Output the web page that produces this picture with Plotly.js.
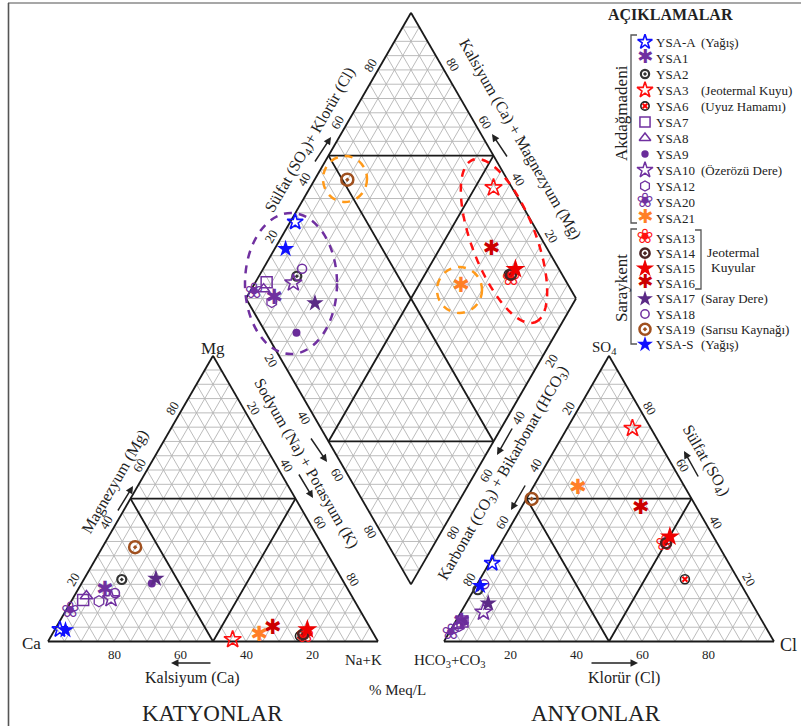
<!DOCTYPE html>
<html><head><meta charset="utf-8">
<script src="https://cdn.plot.ly/plotly-3.0.1.min.js"></script>
<style>html,body{margin:0;padding:0;background:#fff}#chart{width:801px;height:726px}</style>
</head><body><div id="chart"></div>
<script>
// ---------------- DATA (% meq/L) ----------------
const samples = ['YSA-A','YSA1','YSA2','YSA3','YSA6','YSA7','YSA8','YSA9','YSA10','YSA12','YSA20','YSA21','YSA13','YSA14','YSA15','YSA16','YSA17','YSA18','YSA19','YSA-S'];
const notes   = ['(Yağış)','','','(Jeotermal Kuyu)','(Uyuz Hamamı)','','','','(Özerözü Dere)','','','','','','','','(Saray Dere)','','(Sarısu Kaynağı)','(Yağış)'];
const ca   = [94.3,73.9,66.8,43.7,22.7,82.1,80.4,58.4,73.4,77.5,88.0,34.9,21.2,21.4,19.3,29.7,56.3,71.2,57.1,92.7];
const mg   = [4.2,17.6,21.7,0.7,1.9,14.5,15.9,20.3,15.0,14.1,10.6,2.1,1.9,2.5,4.2,4.4,22.0,17.0,33.0,4.0];
const nak  = [1.5,8.5,11.5,55.6,75.4,3.4,3.7,21.3,11.6,8.4,1.4,63.0,76.9,76.1,76.5,65.9,21.7,11.8,9.9,3.3];
const hco3 = [71.7,91.4,80.7,5.6,16.1,90.9,93.0,90.7,82.9,92.8,96.5,32.7,16.3,15.5,13.2,17.1,79.9,77.8,48.5,79.3];
const so4  = [27.4,6.5,18.1,74.6,21.8,7.0,5.5,6.8,10.3,5.4,2.9,53.3,33.8,34.4,36.7,46.6,13.4,20.0,49.9,19.5];
const cl   = [0.9,2.1,1.2,19.8,62.1,2.1,1.5,2.5,6.8,1.8,0.6,14.0,49.9,50.1,50.1,36.3,6.7,2.2,1.6,1.2];
const tickValues = [20,40,60,80];

// ---------------- STYLES ----------------
const styles = [
 {sym:'star-open', color:'#1010ff', size:12, lw:1.6},
 {glyph:'✱', color:'#7030a0', size:21},
 {sym:'circle-open-dot', color:'#333333', size:9, lw:2.2},
 {sym:'star-open', color:'#ff1010', size:13, lw:1.6},
 {sym:'circle-open', color:'#222222', size:9, lw:1.6, over:{sym:'x-thin-open', color:'#ff0000', size:5, lw:2}},
 {sym:'square-open', color:'#7030a0', size:11, lw:1.5},
 {sym:'triangle-up-open', color:'#7030a0', size:11, lw:1.5},
 {sym:'circle', color:'#6a2c9a', size:8, lw:0},
 {sym:'star-open', color:'#7030a0', size:13, lw:1.5},
 {sym:'hexagon-open', color:'#7030a0', size:11, lw:1.3},
 {glyph:'❀', color:'#7030a0', size:22},
 {glyph:'✱', color:'#ff7f27', size:21},
 {glyph:'❀', color:'#ff1010', size:22},
 {sym:'circle-open-dot', color:'#4a2323', size:10, lw:2.5},
 {sym:'star', color:'#ee0000', size:15, lw:0},
 {glyph:'✱', color:'#cc0000', size:21},
 {sym:'star', color:'#5b2a86', size:13, lw:0},
 {sym:'circle-open', color:'#7030a0', size:9, lw:1.5},
 {sym:'circle-open-dot', color:'#a0501e', size:12, lw:2.5},
 {sym:'star', color:'#1010ff', size:13, lw:0}
];

// ---------------- GEOMETRY ----------------
const W = 801, H = 726, S = 3.3, X0 = 48, Y0 = 641.5, GAP = 20, R3 = Math.sqrt(3)/2;
const FONT = "'Liberation Serif', 'Times New Roman', 'DejaVu Serif', serif";
const GLYPH_FONT = "'DejaVu Sans', 'Noto Sans', sans-serif";
const INK = '#222222';
function X(px){return (px - X0)/S;}
function Y(py){return (Y0 - py)/S;}
function catXY(c,m,n){return [n + 0.5*m, R3*m];}
function anXY(h,s,c){return [100 + GAP + c + 0.5*s, R3*s];}
function diaXY(n,sc){return [(n + 100 + GAP + sc)/2, (100 + GAP + sc - n)*R3];}
function lerp(P,Q,f){return [P[0]+(Q[0]-P[0])*f, P[1]+(Q[1]-P[1])*f];}

const A=[0,0], B=[100,0], C=[50,100*R3];
const A2=[100+GAP,0], B2=[200+GAP,0], C2=[150+GAP,100*R3];
const Bm=diaXY(100,0), L=diaXY(0,0), Rt=diaXY(100,100), T=diaXY(0,100);

const gx=[], gy=[], bx=[], by=[];
function seg(arrX,arrY,P,Q){arrX.push(P[0],Q[0],null); arrY.push(P[1],Q[1],null);}
function triGrid(P,Q,R){
  for(let k=1;k<20;k++){ const f=k/20;
    seg(gx,gy,lerp(P,R,f),lerp(Q,R,f));
    seg(gx,gy,lerp(P,Q,f),lerp(R,Q,f));
    seg(gx,gy,lerp(Q,P,f),lerp(R,P,f));
  }
}
triGrid(A,B,C); triGrid(A2,B2,C2); triGrid(L,Rt,T); triGrid(L,Rt,Bm);
seg(gx,gy,L,Rt);
function medial(P,Q,R){
  const m1=lerp(P,Q,.5), m2=lerp(Q,R,.5), m3=lerp(R,P,.5);
  seg(bx,by,m1,m2); seg(bx,by,m2,m3); seg(bx,by,m3,m1);
}
function poly(pts){for(let i=0;i<pts.length;i++) seg(bx,by,pts[i],pts[(i+1)%pts.length]);}
poly([A,B,C]); poly([A2,B2,C2]); poly([L,Bm,Rt,T]);
medial(A,B,C); medial(A2,B2,C2); medial(L,Rt,T); medial(L,Rt,Bm);

const traces = [
  {x:gx,y:gy,mode:'lines',line:{color:'#b4b4b4',width:0.9},hoverinfo:'skip',cliponaxis:false},
  {x:bx,y:by,mode:'lines',line:{color:'#1a1a1a',width:1.8},hoverinfo:'skip',cliponaxis:false}
];

// legend rows
function rowY(i){return i<12 ? 42 + i*16 : 238 + (i-12)*15.2;}
const LEG_X = 645;

function addPoints(xs,ys,st,scale){
  if(st.glyph){
    traces.push({x:xs,y:ys,mode:'text',text:xs.map(()=>st.glyph),textposition:'middle center',
      textfont:{family:GLYPH_FONT,size:st.size*scale,color:st.color},hoverinfo:'skip',cliponaxis:false});
  } else {
    const filled = !/open/.test(st.sym);
    traces.push({x:xs,y:ys,mode:'markers',marker:{symbol:st.sym,size:st.size*scale,color:st.color,
      line:{color:st.color,width:filled?0:st.lw}},hoverinfo:'skip',cliponaxis:false});
    if(st.over){
      traces.push({x:xs,y:ys,mode:'markers',marker:{symbol:st.over.sym,size:st.over.size*scale,color:st.over.color,
        line:{color:st.over.color,width:st.over.lw}},hoverinfo:'skip',cliponaxis:false});
    }
  }
}
samples.forEach((name,i)=>{
  const p1=catXY(ca[i],mg[i],nak[i]);
  const p2=anXY(hco3[i],so4[i],cl[i]);
  const p3=diaXY(nak[i], so4[i]+cl[i]);
  addPoints([p1[0],p2[0],p3[0]],[p1[1],p2[1],p3[1]],styles[i],1);
  addPoints([X(LEG_X)],[Y(rowY(i))],styles[i],0.92);
});

// ---------------- ANNOTATIONS ----------------
const annotations=[];
function label(px,py,text,size,angle,extra){
  annotations.push(Object.assign({x:X(px),y:Y(py),xref:'x',yref:'y',text:text,showarrow:false,
    textangle:angle||0,font:{family:FONT,size:size,color:INK},xanchor:'center',yanchor:'middle'},extra||{}));
}
function arrow(tx,ty,hx,hy){
  annotations.push({x:X(hx),y:Y(hy),ax:X(tx),ay:Y(ty),axref:'x',ayref:'y',xref:'x',yref:'y',text:'',
    showarrow:true,arrowhead:2,arrowsize:1,arrowwidth:1.5,arrowcolor:INK});
}
function sideTicks(P,Q,nx,ny,angle,dist){
  tickValues.forEach(v=>{
    const p=lerp(P,Q,v/100);
    annotations.push({x:p[0],y:p[1],xref:'x',yref:'y',text:String(v),showarrow:false,textangle:angle,
      xshift:nx*dist,yshift:ny*dist,xanchor:'center',yanchor:'middle',font:{family:FONT,size:13,color:INK}});
  });
}
sideTicks(A,C,-0.866,0.5,-60,9);
sideTicks(C,B,0.866,0.5,60,9);
sideTicks(B,A,0,-1,0,13);
sideTicks(A2,B2,0,-1,0,13);
sideTicks(C2,A2,-0.866,0.5,-60,9);
sideTicks(B2,C2,0.866,0.5,60,9);
sideTicks(L,T,-0.866,0.5,-60,9);
sideTicks(Rt,T,0.866,0.5,60,10);
sideTicks(L,Bm,-0.866,-0.5,60,9);
sideTicks(Rt,Bm,0.866,-0.5,-60,10);

// corner labels
label(31,643,'Ca',17,0);
label(363,660,'Na+K',15,0);
label(213,348,'Mg',17,0);
label(604,348,'SO<sub>4</sub>',15,0);
label(449,661,'HCO<sub>3</sub>+CO<sub>3</sub>',15,0);
label(788,645,'Cl',18,0);

// axis titles
label(115,482,'Magnezyum (Mg)',16,-60);
label(306,463,'Sodyum (Na) + Potasyum (K)',16,60);
label(503,473,'Karbonat (CO<sub>3</sub>) + Bikarbonat (HCO<sub>3</sub>)',16,-60);
label(310,140,'Sülfat (SO<sub>4</sub>)+ Klorür (Cl)',16,-60);
label(520,139,'Kalsiyum (Ca) + Magnezyum (Mg)',16,60);
label(706,460,'Sülfat (SO<sub>4</sub>)',16,60);
label(192,678,'Kalsiyum (Ca)',16,0);
label(624,678,'Klorür (Cl)',16,0);
label(397,690,'% Meq/L',15,0);
label(212,713,'KATYONLAR',23,0);
label(596,713,'ANYONLAR',23,0);

arrow(117,512,133,486);
arrow(310,437,327,462);
arrow(298,473,313,498);
arrow(513,427,497,455);
arrow(526,484,511,510);
arrow(314,163,331,137);
arrow(508,158,492,134);
arrow(699,478,684,451);
arrow(212,663,171,663);
arrow(590,663,638,663);

// legend texts
label(670,15,'<b>AÇIKLAMALAR</b>',16,0);
samples.forEach((name,i)=>{
  label(654,rowY(i),name,13,0,{xanchor:'left'});
  if(notes[i]) label(699,rowY(i),notes[i],13,0,{xanchor:'left'});
});
label(733,252,'Jeotermal',13.5,0);
label(733,267,'Kuyular',13.5,0);
label(621,113,'Akdağmadeni',17,-90);
label(621,288,'Saraykent',17,-90);

// ---------------- SHAPES ----------------
function pathPx(pts){return pts.map((p,i)=>(i?'L':'M')+X(p[0])+','+Y(p[1])).join(' ');}
function ellipsePath(cx,cy,a,b,angDeg){
  const th=angDeg*Math.PI/180, ux=Math.sin(th), uy=Math.cos(th), vx=Math.cos(th), vy=-Math.sin(th);
  const pts=[];
  for(let i=0;i<=90;i++){const t=i/90*2*Math.PI;
    pts.push([cx+a*Math.cos(t)*ux+b*Math.sin(t)*vx, cy+a*Math.cos(t)*uy+b*Math.sin(t)*vy]);}
  return pathPx(pts)+' Z';
}
const shapes=[
  {type:'line',xref:'x',yref:'y',x0:X(8),x1:X(801),y0:Y(3),y1:Y(3),line:{color:'#8a8a8a',width:1.6}},
  {type:'line',xref:'x',yref:'y',x0:X(8.5),x1:X(8.5),y0:Y(3),y1:Y(726),line:{color:'#555555',width:1.6}},
  {type:'path',xref:'x',yref:'y',path:pathPx([[637,35],[631,35],[631,223],[637,223]]),line:{color:'#555',width:1.3}},
  {type:'path',xref:'x',yref:'y',path:pathPx([[637,229],[631,229],[631,344],[637,344]]),line:{color:'#555',width:1.3}},
  {type:'path',xref:'x',yref:'y',path:pathPx([[695,230],[701,230],[701,289],[695,289]]),line:{color:'#555',width:1.3}},
  {type:'circle',xref:'x',yref:'y',x0:X(245),x1:X(337),y0:Y(354),y1:Y(213),line:{color:'#7030a0',width:2.5,dash:'8px,7px'}},
  {type:'circle',xref:'x',yref:'y',x0:X(323),x1:X(367),y0:Y(202),y1:Y(156),line:{color:'#ff9a1a',width:2.5,dash:'8px,7px'}},
  {type:'circle',xref:'x',yref:'y',x0:X(437),x1:X(482),y0:Y(313),y1:Y(267),line:{color:'#ff9a1a',width:2.5,dash:'8px,7px'}},
  {type:'path',xref:'x',yref:'y',path:ellipsePath(504,241,87,32,21),line:{color:'#ff1010',width:2.5,dash:'8px,7px'}}
];

const layout={
  width:W,height:H,margin:{l:0,r:0,t:0,b:0},paper_bgcolor:'#fff',plot_bgcolor:'#fff',showlegend:false,
  xaxis:{range:[X(0),X(W)],visible:false,fixedrange:true,domain:[0,1]},
  yaxis:{range:[Y(H),Y(0)],visible:false,fixedrange:true,domain:[0,1]},
  annotations:annotations,shapes:shapes,font:{family:FONT,color:INK}
};
Plotly.newPlot('chart',traces,layout,{displayModeBar:false,staticPlot:true});
</script></body></html>
